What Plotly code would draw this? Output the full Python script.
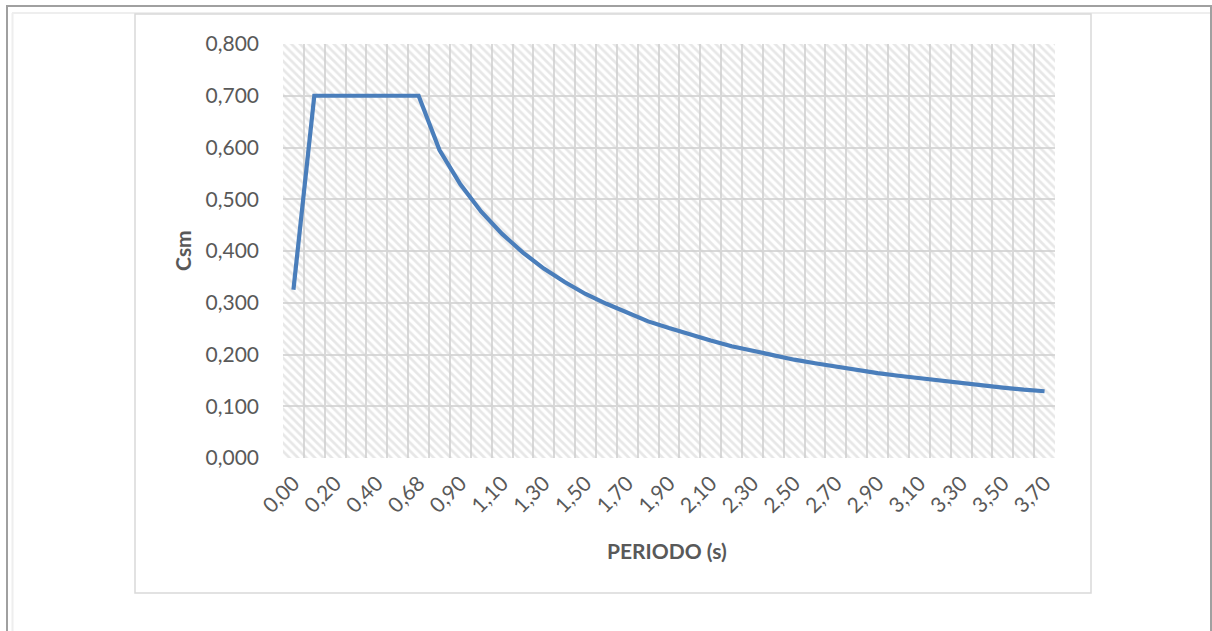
import plotly.graph_objects as go

# ---- data ----
periods = [0.00, 0.14, 0.20, 0.30, 0.40, 0.50, 0.68, 0.80, 0.90,
           1.00, 1.10, 1.20, 1.30, 1.40, 1.50, 1.60, 1.70, 1.80, 1.90,
           2.00, 2.10, 2.20, 2.30, 2.40, 2.50, 2.60, 2.70, 2.80, 2.90,
           3.00, 3.10, 3.20, 3.30, 3.40, 3.50, 3.60, 3.70]
csm = [0.325, 0.700, 0.700, 0.700, 0.700, 0.700, 0.700, 0.595, 0.529,
       0.476, 0.433, 0.397, 0.366, 0.340, 0.317, 0.298, 0.280, 0.264, 0.251,
       0.238, 0.227, 0.216, 0.207, 0.198, 0.190, 0.183, 0.176, 0.170, 0.164,
       0.159, 0.154, 0.149, 0.144, 0.140, 0.136, 0.132, 0.129]
y_max = 0.8
x_title = "PERIODO (s)"
y_title = "Csm"

labels = [f"{p:.2f}".replace(".", ",") for p in periods]
idx = list(range(len(periods)))
tick_idx = idx[::2]
tick_txt = [labels[i] for i in tick_idx]

W, H = 1212, 631
L, R, T, B = 283, 1055, 44, 458


def px(x):
    return (x - L) / (R - L)


def py(y):
    return (B - y) / (B - T)


FONT = "Lato, Carlito, Calibri, sans-serif"
GRID = "#d9d9d9"
TXT = "#595959"
FS = 21

fig = go.Figure()
# hatched plot-area fill (Excel pattern fill)
fig.add_trace(go.Bar(
    x=idx, y=[y_max] * len(idx), width=1,
    marker=dict(color="rgba(0,0,0,0)", line=dict(width=0),
                pattern=dict(shape="\\", size=6, solidity=0.45,
                             fgcolor="#d0d0d0", bgcolor="rgba(0,0,0,0)")),
    hoverinfo="skip", showlegend=False))
fig.add_trace(go.Scatter(
    x=idx, y=csm, mode="lines",
    line=dict(color="#4a7ebb", width=4.2),
    customdata=labels,
    hovertemplate="T=%{customdata}<br>Csm=%{y:.3f}<extra></extra>",
    showlegend=False))

fig.update_layout(
    width=W, height=H,
    margin=dict(l=L, r=W - R, t=T, b=H - B, autoexpand=False),
    paper_bgcolor="white", plot_bgcolor="white",
    separators=",.",
    bargap=0,
    font=dict(family=FONT, color=TXT, size=FS),
    xaxis=dict(range=[-0.5, len(idx) - 0.5], tickmode="array",
               tickvals=tick_idx, ticktext=tick_txt, tickangle=-45,
               showgrid=False, zeroline=False, showline=False, ticks="",
               ticklabelstandoff=8,
               minor=dict(tick0=-0.5, dtick=1, showgrid=True,
                          gridcolor=GRID, gridwidth=1.5, ticks=""),
               tickfont=dict(family=FONT, size=FS, color=TXT)),
    yaxis=dict(range=[0, y_max], dtick=0.1, tickformat=".3f",
               showgrid=True, gridcolor=GRID, gridwidth=1.5,
               zeroline=False, showline=False, ticks="",
               ticklabelstandoff=23,
               tickfont=dict(family=FONT, size=FS, color=TXT)),
    annotations=[
        dict(text=f"<b>{x_title}</b>", xref="paper", yref="paper",
             x=px(667), y=py(550), xanchor="center", yanchor="middle",
             showarrow=False, font=dict(family=FONT, size=FS, color=TXT)),
        dict(text=f"<b>{y_title}</b>", xref="paper", yref="paper",
             x=px(182), y=py(251), xanchor="center", yanchor="middle",
             showarrow=False, textangle=-90,
             font=dict(family=FONT, size=FS, color=TXT)),
    ],
    shapes=[
        # outer dark frame
        dict(type="line", xref="paper", yref="paper", x0=px(6), x1=px(1212),
             y0=py(6), y1=py(6), line=dict(color="#a0a0a0", width=2)),
        dict(type="line", xref="paper", yref="paper", x0=px(7), x1=px(7),
             y0=py(5), y1=py(631), line=dict(color="#a0a0a0", width=2)),
        dict(type="line", xref="paper", yref="paper", x0=px(1211), x1=px(1211),
             y0=py(5), y1=py(631), line=dict(color="#a0a0a0", width=2)),
        # inner light lines
        dict(type="line", xref="paper", yref="paper", x0=px(12), x1=px(1210),
             y0=py(13), y1=py(13), line=dict(color="#eeeeee", width=2)),
        dict(type="line", xref="paper", yref="paper", x0=px(12.5), x1=px(12.5),
             y0=py(13), y1=py(631), line=dict(color="#eeeeee", width=2)),
        # chart area border
        dict(type="rect", xref="paper", yref="paper", x0=px(135), x1=px(1091),
             y0=py(14), y1=py(593), line=dict(color="#d9d9d9", width=1.5),
             fillcolor="rgba(0,0,0,0)"),
    ],
)

fig.write_html(
    "out.html",
    config={"displayModeBar": False},
    post_script="document.body.style.margin='0';document.body.style.overflow='hidden';")
